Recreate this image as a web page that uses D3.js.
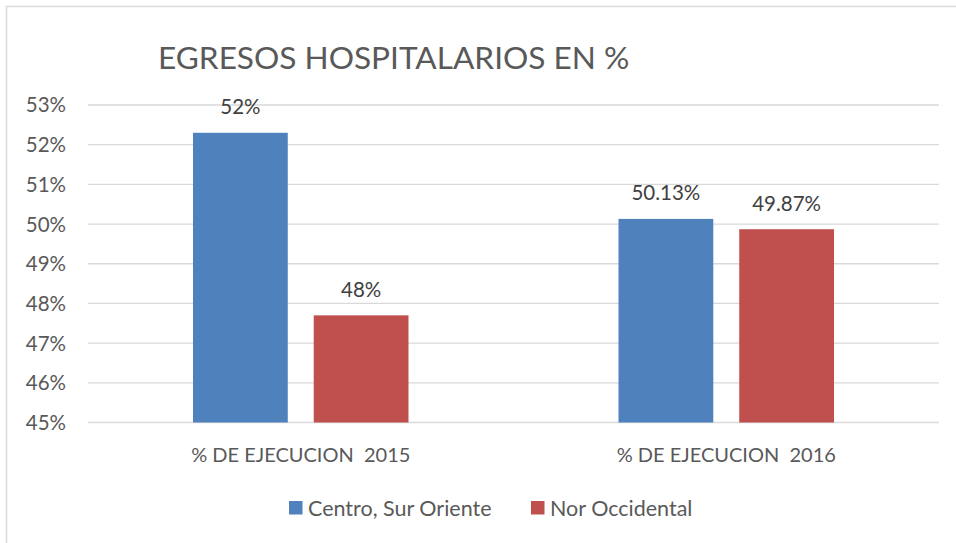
<!DOCTYPE html>
<html><head><meta charset="utf-8">
<script src="https://cdn.jsdelivr.net/npm/d3@7"></script>
<style>
html,body{margin:0;padding:0;background:#fff;}
svg{display:block;font-family:Lato, "Open Sans", sans-serif;}
text{white-space:pre;}
</style></head>
<body><svg id="chart" width="956" height="543"></svg>
<script>
const title = "EGRESOS HOSPITALARIOS EN %";
const categories = ["% DE EJECUCION  2015", "% DE EJECUCION  2016"];
const seriesNames = ["Centro, Sur Oriente", "Nor Occidental"];
const centroValues = [52.3, 50.13];
const norValues = [47.7, 49.87];
const centroLabels = ["52%", "50.13%"];
const norLabels = ["48%", "49.87%"];
const yTicks = [45, 46, 47, 48, 49, 50, 51, 52, 53];
const colors = ["#4F81BD", "#C0504D"];

const svg = d3.select("#chart");
const W = 956, H = 543;
const m = {left: 88, right: 17, top: 105, bottom: 120.5};

// chart border
svg.append("rect").attr("x", 6.5).attr("y", 6.5).attr("width", W).attr("height", H)
  .attr("fill", "#fff").attr("stroke", "#D9D9D9").attr("stroke-width", 1.5);

const x0 = d3.scaleBand().domain(categories).range([m.left, W - m.right]).paddingInner(0).paddingOuter(0);
const groupPad = 105;
const x1 = d3.scaleBand().domain(seriesNames)
  .range([groupPad, x0.bandwidth() - groupPad]).paddingInner(0.215);
const y = d3.scaleLinear().domain([45, 53]).range([H - m.bottom, m.top]);

// gridlines
svg.append("g").selectAll("line").data(yTicks).join("line")
  .attr("x1", m.left).attr("x2", W - m.right)
  .attr("y1", d => y(d)).attr("y2", d => y(d))
  .attr("stroke", "#D9D9D9").attr("stroke-width", 1.3);

// y axis labels
const yAxis = d3.axisLeft(y).tickValues(yTicks).tickFormat(d => d + "%").tickSize(0).tickPadding(0);
const ya = svg.append("g").attr("transform", `translate(66,0)`).call(yAxis);
ya.select(".domain").remove();
ya.selectAll("text").attr("font-size", 20.5).attr("fill", "#595959")
  .attr("font-family", "Lato, sans-serif").attr("dy", "0.34em");

const data = categories.map((c, i) => ({
  cat: c,
  vals: [
    {s: seriesNames[0], v: centroValues[i], lab: centroLabels[i], color: colors[0]},
    {s: seriesNames[1], v: norValues[i], lab: norLabels[i], color: colors[1]}
  ]
}));

const g = svg.append("g").selectAll("g").data(data).join("g")
  .attr("transform", d => `translate(${x0(d.cat)},0)`);
g.selectAll("rect").data(d => d.vals).join("rect")
  .attr("x", d => x1(d.s)).attr("width", x1.bandwidth())
  .attr("y", d => y(d.v)).attr("height", d => y(45) - y(d.v))
  .attr("fill", d => d.color);
g.selectAll("text.lab").data(d => d.vals).join("text").attr("class", "lab")
  .attr("x", d => x1(d.s) + x1.bandwidth() / 2).attr("y", d => y(d.v) - 18.5)
  .attr("text-anchor", "middle").attr("font-size", 20.5).attr("fill", "#404040")
  .text(d => d.lab);

// x axis labels
const xAxis = d3.axisBottom(x0).tickSize(0).tickPadding(0);
const xa = svg.append("g").attr("transform", `translate(0,462)`).call(xAxis);
xa.select(".domain").remove();
xa.selectAll("text").attr("font-size", 20).attr("fill", "#595959")
  .attr("font-family", "Lato, sans-serif").attr("dy", 0).style("white-space", "pre");

// title
svg.append("text").attr("x", 158).attr("y", 69).attr("font-size", 31.6)
  .attr("fill", "#595959").text(title);

// legend
const legX = [289, 531];
const lg = svg.append("g").selectAll("g").data(seriesNames).join("g")
  .attr("transform", (d, i) => `translate(${legX[i]},501)`);
lg.append("rect").attr("width", 13.5).attr("height", 13.5).attr("fill", (d, i) => colors[i]);
lg.append("text").attr("x", 19).attr("y", 14.5).attr("font-size", 21.5).attr("fill", "#595959").text(d => d);
</script></body></html>
